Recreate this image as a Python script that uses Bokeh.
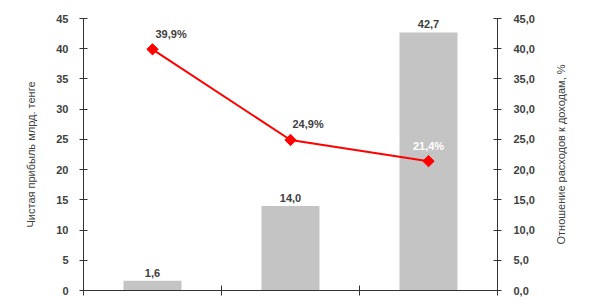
import numpy as np
from bokeh.plotting import figure
from bokeh.layouts import row
from bokeh.models import ColumnDataSource, Range1d, LinearAxis, FixedTicker, CustomJSTickFormatter, Title
from bokeh.core.properties import value
from bokeh.embed import file_html
from bokeh.resources import INLINE

# data
categories = ["A", "B", "C"]
profit = [1.6, 14.0, 42.7]
profit_labels = ["1,6", "14,0", "42,7"]
ratio = [39.9, 24.9, 21.4]
ratio_labels = ["39,9%", "24,9%", "21,4%"]
left_ticks = [0, 5, 10, 15, 20, 25, 30, 35, 40, 45]
left_title = "Чистая прибыль млрд. тенге"
right_title = "Отношение расходов к доходам, %"

FONT = "Liberation Sans"
TXT = "#404040"
AX = "#333333"

xs = [i + 0.5 for i in range(len(categories))]

p = figure(width=552, height=300, x_range=Range1d(0, 3), y_range=Range1d(0, 45),
           output_backend="svg", toolbar_location=None,
           min_border_left=83, min_border_right=55, min_border_top=18, min_border_bottom=10)
p.outline_line_color = None
p.grid.visible = False
p.background_fill_color = "white"

bars = ColumnDataSource(dict(x=xs, top=profit, lab=profit_labels))
p.vbar(x="x", top="top", width=0.42, source=bars, fill_color="#C4C4C4", line_color=None)
p.text(x="x", y="top", text="lab", source=bars, text_align="center", text_baseline="bottom",
       y_offset=-4, text_font=value(FONT), text_font_style="bold", text_font_size="11px",
       text_color=TXT)

line = ColumnDataSource(dict(x=xs, y=ratio, lab=ratio_labels,
                             xo=[3, 2, 0], yo=[-15, -16, -15],
                             al=["left", "left", "center"],
                             col=[TXT, TXT, "white"]))
p.line(x="x", y="y", source=line, line_color="#FF0000", line_width=2)
p.scatter(x="x", y="y", source=line, marker="square", angle=np.pi / 4, size=8,
          fill_color="#FF0000", line_color="#FF0000")
p.text(x="x", y="y", text="lab", source=line, x_offset="xo", y_offset="yo",
       text_align="al", text_baseline="middle", text_font=value(FONT),
       text_font_style="bold", text_font_size="11px", text_color="col")

# x axis
xa = p.xaxis[0]
xa.ticker = FixedTicker(ticks=[0, 1, 2, 3])
xa.formatter = CustomJSTickFormatter(code="return ''")
xa.major_label_text_font_size = "0px"
xa.major_label_standoff = 0
xa.major_tick_in = 5
xa.major_tick_out = 5
xa.minor_tick_line_color = None
xa.axis_line_color = AX
xa.major_tick_line_color = AX

# left axis
ya = p.yaxis[0]
ya.ticker = FixedTicker(ticks=left_ticks)
ya.major_tick_in = 4
ya.major_tick_out = 4
ya.minor_tick_line_color = None
ya.axis_line_color = AX
ya.major_tick_line_color = AX
ya.major_label_standoff = 11
ya.major_label_text_font = FONT
ya.major_label_text_font_style = "bold"
ya.major_label_text_font_size = "11px"
ya.major_label_text_color = TXT
ya.axis_label = left_title
ya.axis_label_standoff = 16
ya.axis_label_text_font = FONT
ya.axis_label_text_font_style = "normal"
ya.axis_label_text_font_size = "11px"
ya.axis_label_text_color = TXT

# right axis
p.extra_y_ranges = {"r": Range1d(0, 45)}
ra = LinearAxis(y_range_name="r")
ra.ticker = FixedTicker(ticks=left_ticks)
ra.formatter = CustomJSTickFormatter(code="return tick.toFixed(1).replace('.', ',')")
ra.major_tick_in = 4
ra.major_tick_out = 4
ra.minor_tick_line_color = None
ra.axis_line_color = AX
ra.major_tick_line_color = AX
ra.major_label_standoff = 12
ra.major_label_text_font = FONT
ra.major_label_text_font_style = "bold"
ra.major_label_text_font_size = "11px"
ra.major_label_text_color = TXT
p.add_layout(ra, "right")

# right-hand title (reads bottom-to-top, as in the reference)
q = figure(width=59, height=300, output_backend="svg", toolbar_location=None,
           x_axis_location=None, y_axis_location=None,
           min_border_left=0, min_border_right=0, min_border_top=10, min_border_bottom=10)
q.outline_line_color = None
q.grid.visible = False
q.add_layout(Title(text=right_title, align="center", text_font=FONT, text_font_size="11px",
                   text_font_style="normal", text_color=TXT, standoff=0, offset=0), "left")

layout = row(p, q, spacing=0)
open("out.html", "w").write(file_html(layout, INLINE))
